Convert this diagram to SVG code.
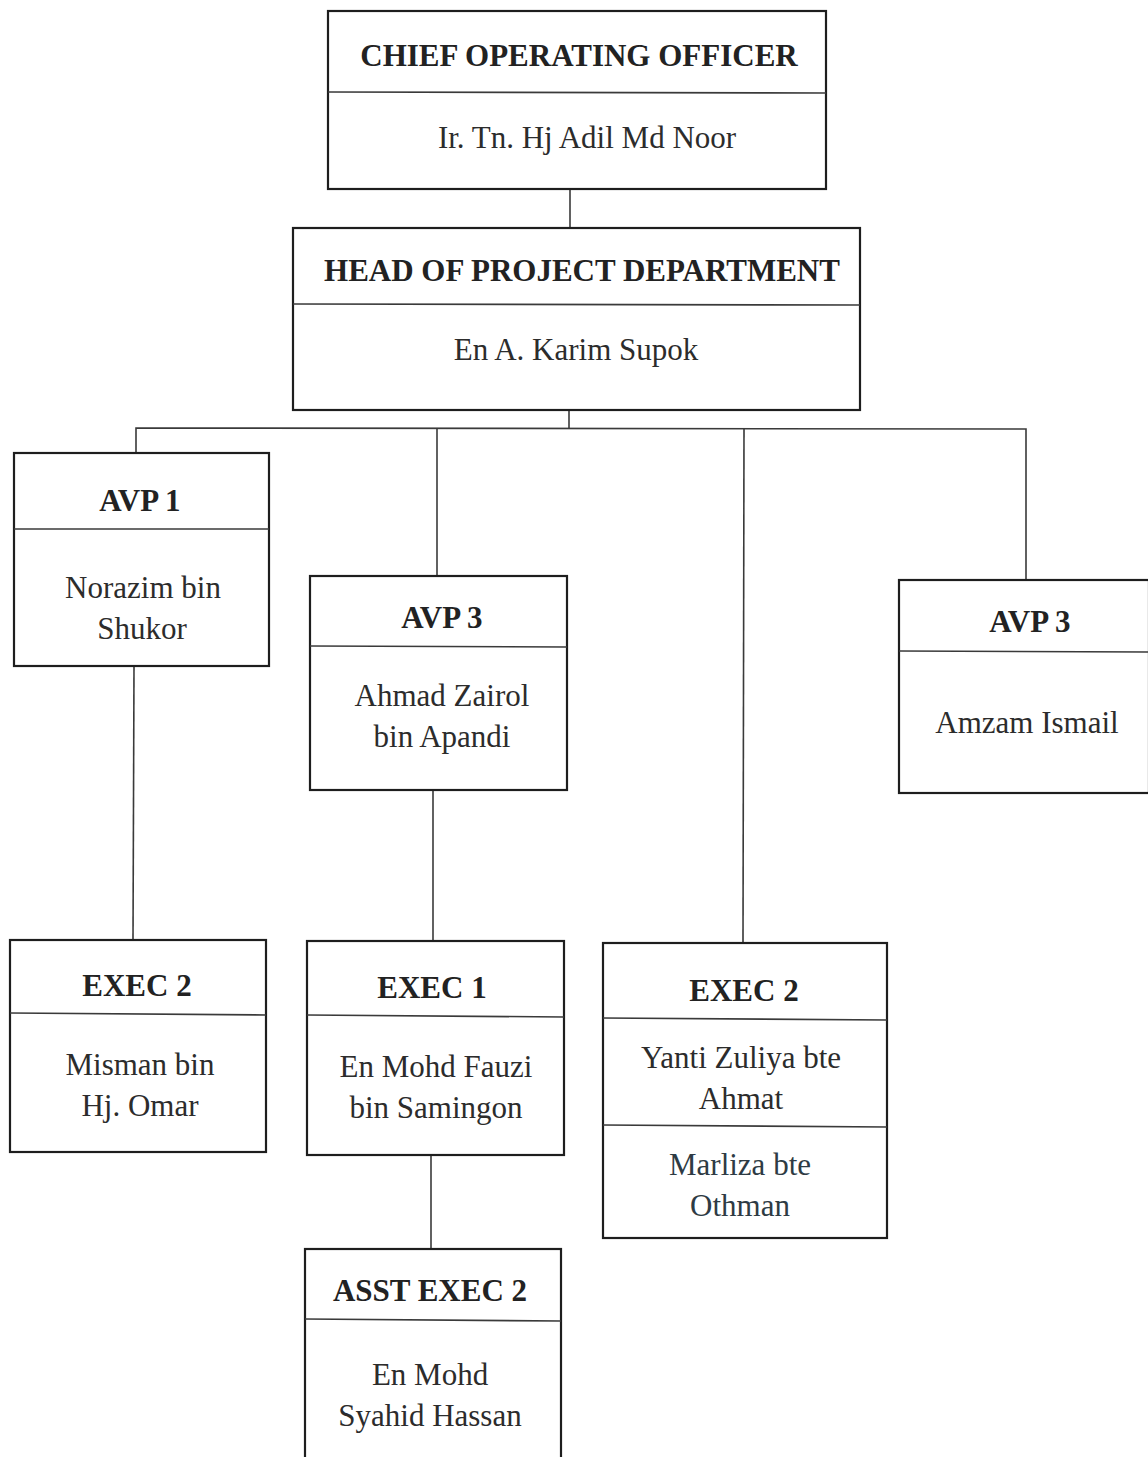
<svg xmlns="http://www.w3.org/2000/svg" width="1148" height="1457" viewBox="0 0 1148 1457">
<style>
.box{fill:#fff;stroke:#1e1e1e;stroke-width:2.2}
.div{stroke:#3a3a3a;stroke-width:1.6}
.con{stroke:#3a3a3a;stroke-width:1.6;fill:none}
.t{font-family:"Liberation Serif","Times New Roman",serif;font-weight:bold;font-size:31px;fill:#222;text-anchor:middle}
.n{font-family:"Liberation Serif","Times New Roman",serif;font-size:31px;fill:#2c2c2c;text-anchor:middle}
.nb{fill:#2e3b44}
</style>
<rect width="1148" height="1457" fill="#fff"/>
<g id="connectors">
<line class="con" x1="570" y1="189" x2="570" y2="228"/>
<line class="con" x1="569" y1="410" x2="569" y2="428"/>
<polyline class="con" points="136,453 136,428 1026,429 1026,580"/>
<line class="con" x1="437" y1="428" x2="437" y2="576"/>
<line class="con" x1="744" y1="429" x2="743" y2="943"/>
<line class="con" x1="134" y1="666" x2="133" y2="940"/>
<line class="con" x1="433" y1="790" x2="433" y2="941"/>
<line class="con" x1="431" y1="1155" x2="431" y2="1249"/>
</g>
<g id="coo">
<rect class="box" x="328" y="11" width="498" height="178"/>
<line class="div" x1="328" y1="92" x2="826" y2="93"/>
<text class="t" x="579" y="66">CHIEF OPERATING OFFICER</text>
<text class="n" x="587" y="148">Ir. Tn. Hj Adil Md Noor</text>
</g>
<g id="hopd">
<rect class="box" x="293" y="228" width="567" height="182"/>
<line class="div" x1="293" y1="304" x2="860" y2="305"/>
<text class="t" x="582" y="281">HEAD OF PROJECT DEPARTMENT</text>
<text class="n" x="576" y="360">En A. Karim Supok</text>
</g>
<g id="avp1">
<rect class="box" x="14" y="453" width="255" height="213"/>
<line class="div" x1="14" y1="529" x2="269" y2="529"/>
<text class="t" x="140" y="511">AVP 1</text>
<text class="n" x="143" y="598">Norazim bin</text>
<text class="n" x="142" y="639">Shukor</text>
</g>
<g id="avp3a">
<rect class="box" x="310" y="576" width="257" height="214"/>
<line class="div" x1="310" y1="646" x2="567" y2="647"/>
<text class="t" x="442" y="628">AVP 3</text>
<text class="n" x="442" y="706">Ahmad Zairol</text>
<text class="n" x="442" y="747">bin Apandi</text>
</g>
<g id="avp3b">
<rect class="box" x="899" y="580" width="250" height="213"/>
<line class="div" x1="899" y1="651" x2="1148" y2="652"/>
<text class="t" x="1030" y="632">AVP 3</text>
<text class="n" x="1027" y="733">Amzam Ismail</text>
</g>
<g id="exec2a">
<rect class="box" x="10" y="940" width="256" height="212"/>
<line class="div" x1="10" y1="1013" x2="266" y2="1015"/>
<text class="t" x="137" y="996">EXEC 2</text>
<text class="n" x="140" y="1075">Misman bin</text>
<text class="n" x="140" y="1116">Hj. Omar</text>
</g>
<g id="exec1">
<rect class="box" x="307" y="941" width="257" height="214"/>
<line class="div" x1="307" y1="1015" x2="564" y2="1017"/>
<text class="t" x="432" y="998">EXEC 1</text>
<text class="n" x="436" y="1077">En Mohd Fauzi</text>
<text class="n" x="436" y="1118">bin Samingon</text>
</g>
<g id="exec2b">
<rect class="box" x="603" y="943" width="284" height="295"/>
<line class="div" x1="603" y1="1018" x2="887" y2="1020"/>
<line class="div" x1="603" y1="1125" x2="887" y2="1127"/>
<text class="t" x="744" y="1001">EXEC 2</text>
<text class="n" x="741" y="1068">Yanti Zuliya bte</text>
<text class="n" x="741" y="1109">Ahmat</text>
<text class="n nb" x="740" y="1175">Marliza bte</text>
<text class="n nb" x="740" y="1216">Othman</text>
</g>
<g id="asstexec2">
<rect class="box" x="305" y="1249" width="256" height="220"/>
<line class="div" x1="305" y1="1319" x2="561" y2="1321"/>
<text class="t" x="430" y="1301">ASST EXEC 2</text>
<text class="n" x="430" y="1385">En Mohd</text>
<text class="n" x="430" y="1426">Syahid Hassan</text>
</g>
</svg>
